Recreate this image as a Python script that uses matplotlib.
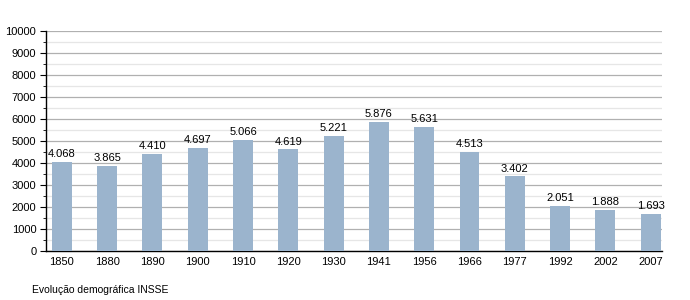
"""
Evolução demográfica INSSE - gráfico de barras
"""

import matplotlib
matplotlib.use("Agg")
import matplotlib.pyplot as plt
from matplotlib.ticker import MultipleLocator

# Datos
anos = ["1850", "1880", "1890", "1900", "1910", "1920", "1930",
        "1941", "1956", "1966", "1977", "1992", "2002", "2007"]
populacao = [4068, 3865, 4410, 4697, 5066, 4619, 5221,
             5876, 5631, 4513, 3402, 2051, 1888, 1693]
etiquetas = ["4.068", "3.865", "4.410", "4.697", "5.066", "4.619", "5.221",
             "5.876", "5.631", "4.513", "3.402", "2.051", "1.888", "1.693"]

plt.rcParams['font.family'] = ['Liberation Sans', 'DejaVu Sans']

fig = plt.figure(figsize=(6.9, 3.0), dpi=100)
ax = fig.add_axes([0.0667, 0.163, 0.892, 0.734])

x = range(len(anos))
ax.bar(x, populacao, width=0.44, color="#9bb4cd", zorder=3)

for i, (v, t) in enumerate(zip(populacao, etiquetas)):
    ax.text(i, v + 120, t, ha="center", va="bottom", fontsize=8, zorder=4)

ax.set_xlim(-0.35, 13.24)
ax.set_ylim(0, 10000)
ax.yaxis.set_major_locator(MultipleLocator(1000))
ax.yaxis.set_minor_locator(MultipleLocator(500))
ax.grid(axis="y", which="major", color="#b0b0b0", linewidth=0.9, zorder=0)
ax.grid(axis="y", which="minor", color="#e6e6e6", linewidth=0.9, zorder=0)

ax.set_xticks(list(x))
ax.set_xticklabels(anos)
ax.tick_params(axis="x", length=0, labelsize=8, pad=4)
ax.tick_params(axis="y", which="major", length=4, labelsize=8, pad=3)
ax.tick_params(axis="y", which="minor", length=2)

for lado in ["top", "right"]:
    ax.spines[lado].set_visible(False)
ax.spines["left"].set_linewidth(1.0)
ax.spines["bottom"].set_linewidth(1.0)

fig.text(32 / 690, 1 - 290 / 300, "Evolução demográfica INSSE",
         fontsize=7.5, ha="left", va="center")

fig.savefig("out.png", dpi=100)
